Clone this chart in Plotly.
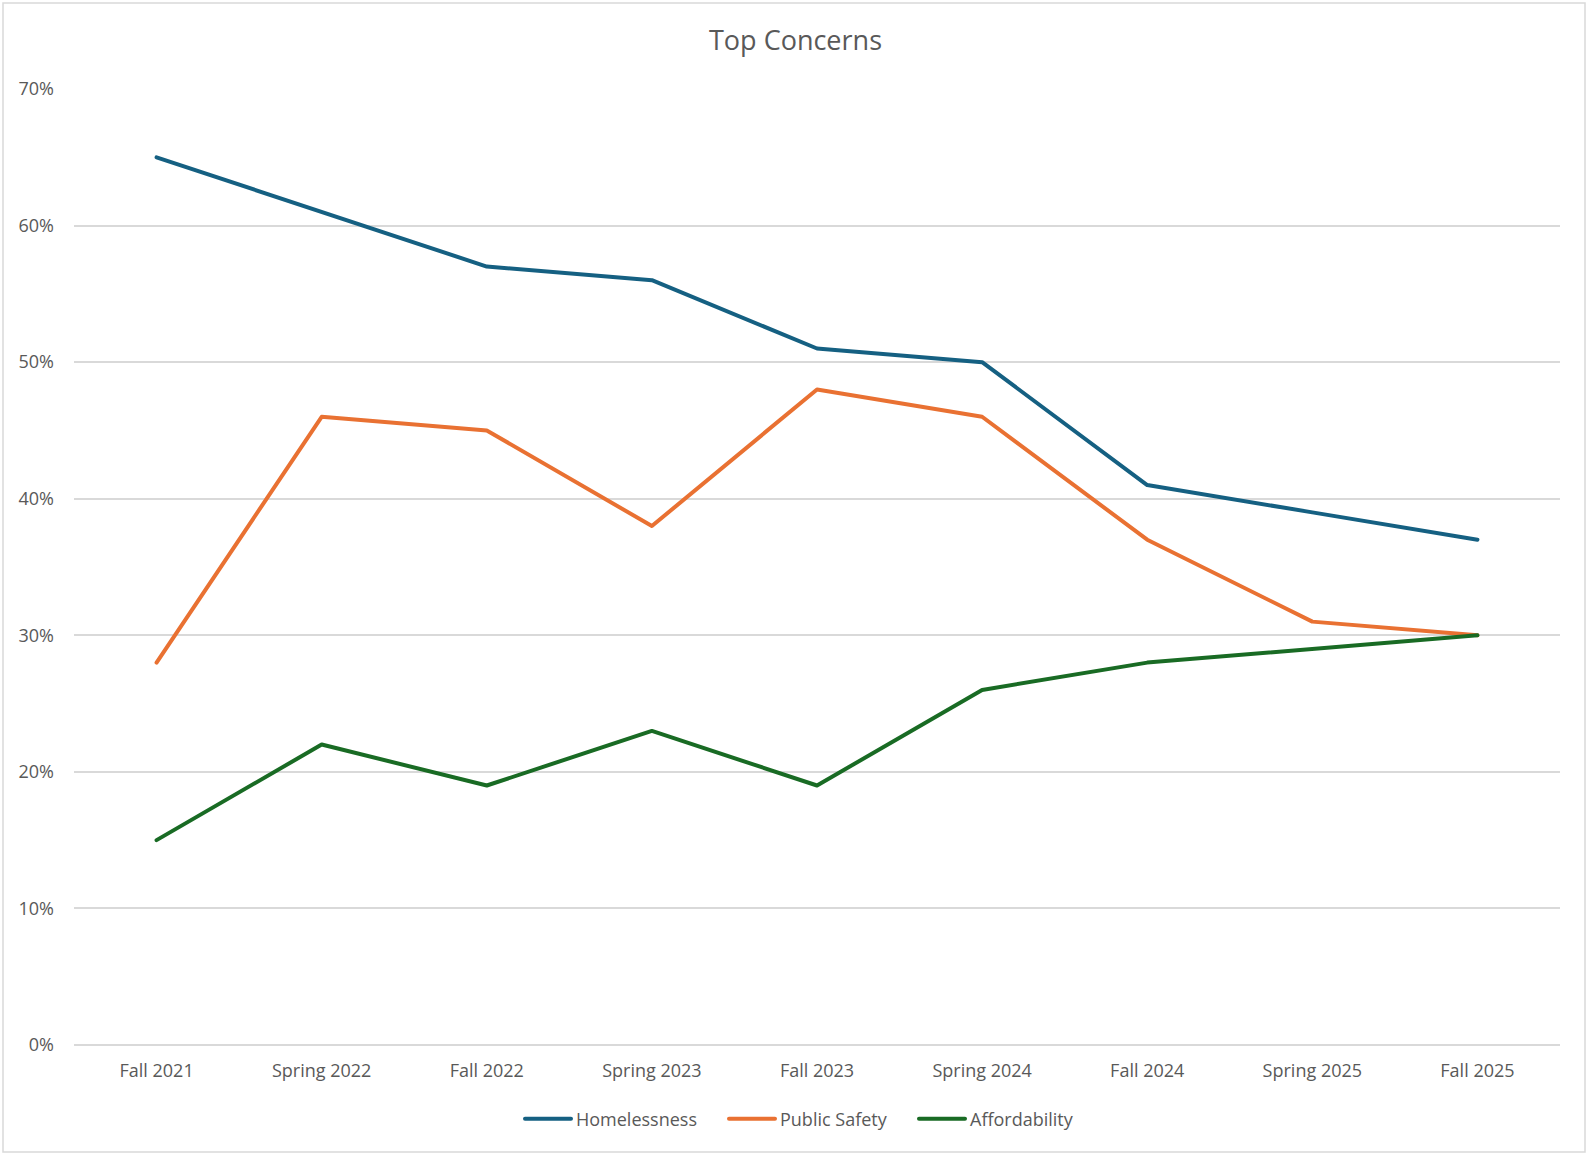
import plotly.graph_objects as go

categories = ["Fall 2021", "Spring 2022", "Fall 2022", "Spring 2023", "Fall 2023",
              "Spring 2024", "Fall 2024", "Spring 2025", "Fall 2025"]
homelessness = [0.65, 0.61, 0.57, 0.56, 0.51, 0.50, 0.41, 0.39, 0.37]
public_safety = [0.28, 0.46, 0.45, 0.38, 0.48, 0.46, 0.37, 0.31, 0.30]
affordability = [0.15, 0.22, 0.19, 0.23, 0.19, 0.26, 0.28, 0.29, 0.30]
y_ticks = [0, 0.1, 0.2, 0.3, 0.4, 0.5, 0.6, 0.7]

series = [
    ("Homelessness", homelessness, "#156082", 143),
    ("Public Safety", public_safety, "#E97132", 129),
    ("Affordability", affordability, "#196B24", None),
]

W, H = 1591, 1154
L, R, T, B = 74, 31, 89, 109
pw, ph = W - L - R, H - T - B

fig = go.Figure()
for name, vals, col, lw in series:
    kw = {}
    if lw:
        kw["legendwidth"] = lw
    fig.add_trace(go.Scatter(x=categories, y=vals, mode="lines", name=name,
                             line=dict(color=col, width=4), **kw))

font_family = "Open Sans, Lato, sans-serif"
grey = "#595959"

fig.update_layout(
    width=W, height=H,
    margin=dict(l=L, r=R, t=T, b=B),
    paper_bgcolor="white", plot_bgcolor="white",
    font=dict(family=font_family, color=grey, size=18),
    title=dict(text="Top Concerns", x=0.5, xanchor="center", xref="container",
               y=1 - 40.5 / H, yanchor="middle",
               font=dict(size=27, color=grey, family=font_family)),
    showlegend=True,
    legend=dict(orientation="h", xref="container", yref="container",
                x=520 / W, xanchor="left",
                y=1 - 1119 / H, yanchor="middle",
                font=dict(size=18, color=grey), itemwidth=46,
                tracegroupgap=0),
    xaxis=dict(type="category", range=[-0.5, len(categories) - 0.5],
               showgrid=False, showline=False, zeroline=False,
               ticks="", tickfont=dict(size=18, color=grey),
               ticklabelstandoff=13),
    yaxis=dict(range=[0, 0.7], tickvals=y_ticks, tickformat=".0%",
               showgrid=True, gridcolor="#D9D9D9", gridwidth=1.5,
               zeroline=True, zerolinecolor="#D9D9D9", zerolinewidth=1.5,
               showline=False, ticks="", tickfont=dict(size=18, color=grey),
               ticklabelstandoff=19),
    shapes=[dict(type="rect", xref="paper", yref="paper",
                 x0=(3 - L) / pw, x1=(1585 - L) / pw,
                 y0=(1045 - 1152) / ph, y1=(1045 - 3) / ph,
                 line=dict(color="#D9D9D9", width=1.5), fillcolor="rgba(0,0,0,0)",
                 layer="below")],
)

post = (
    "document.body.style.margin='0';document.body.style.padding='0';"
    "document.querySelectorAll('.scatterlayer path.js-line, .legend .legendlines path')"
    ".forEach(function(p){p.style.strokeLinecap='round';p.style.strokeLinejoin='round';});"
)

fig.write_html("out.html", config={"displayModeBar": False}, post_script=post)
